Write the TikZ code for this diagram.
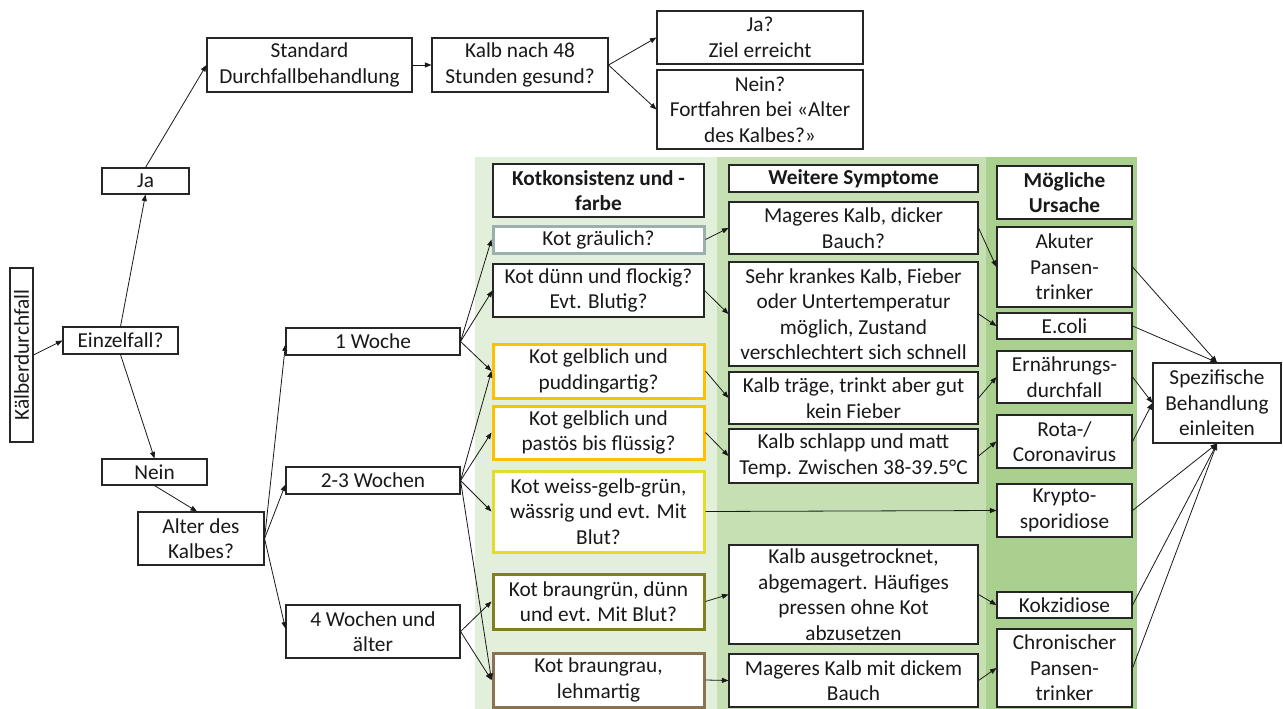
\documentclass[tikz,border=0pt]{standalone}
\usepackage{fontspec}
\setmainfont{Carlito}
\usetikzlibrary{arrows.meta}
\definecolor{bgA}{HTML}{E2EFDA}
\definecolor{bgB}{HTML}{C6E0B4}
\definecolor{bgC}{HTML}{A9D08E}
\definecolor{cgrau}{HTML}{9AAFAE}
\definecolor{corange}{HTML}{FFC000}
\definecolor{cyellow}{HTML}{E2DC2A}
\definecolor{colive}{HTML}{808020}
\definecolor{cbrown}{HTML}{8B7250}
\newcommand\mybox[7][]{\node[box,#1,minimum width={(#5-#3)*1pt},minimum height={(#6-#4)*1pt}] (#2) at ({(#3+#5)/2},{(#4+#6)/2}) {#7};}
\begin{document}
\begin{tikzpicture}[x=1pt,y=-1pt,
  box/.style={draw=black!85,line width=1.1pt,fill=white,inner sep=0pt,align=center,text=black!90,font=\fontsize{21.3}{25.5}\selectfont},
  hd/.style={font=\fontsize{21.3}{25.5}\selectfont\bfseries},
  cbox/.style={line width=3pt},
  arr/.style={-{Triangle[length=6.5pt,width=5pt]},line width=0.8pt,draw=black!90}]
\useasboundingbox (0,0) rectangle (1283,709);
\fill[white] (0,0) rectangle (1283,709);
% column backgrounds
\fill[bgA] (475,157) rectangle (717,709);
\fill[bgB] (717,157) rectangle (986,709);
\fill[bgC] (986,157) rectangle (1137,709);
% left part
\mybox{kd}{10}{268}{33}{442}{\rotatebox{90}{Kälberdurchfall}}
\mybox{ein}{63}{327}{178}{354}{Einzelfall?}
\mybox{ja}{102}{168}{189}{194}{Ja}
\mybox{nein}{102}{459}{207}{485}{Nein}
\mybox{alt}{138}{512}{264}{565}{Alter des\\Kalbes?}
\mybox{std}{207}{38}{412}{92}{Standard\\Durchfallbehandlung}
\mybox{k48}{432}{38}{608}{92}{Kalb nach 48\\Stunden gesund?}
\mybox{jaz}{657}{11}{863}{64}{Ja?\\Ziel erreicht}
\mybox{neinz}{657}{70}{863}{149}{Nein?\\Fortfahren bei «Alter\\des Kalbes?»}
\mybox{w1}{286}{328}{460}{355}{1 Woche}
\mybox{w23}{286}{467}{460}{494}{2-3 Wochen}
\mybox{w4}{286}{605}{460}{658}{4 Wochen und\\älter}
% column 1
\mybox[hd]{h1}{493}{164}{704}{217}{Kotkonsistenz und -\\farbe}
\mybox[cbox,draw=cgrau]{k1}{493}{226}{704}{253}{Kot gräulich?}
\mybox{k2}{493}{264}{704}{317}{Kot dünn und flockig?\\Evt. Blutig?}
\mybox[cbox,draw=corange]{k3}{493}{344}{704}{398}{Kot gelblich und\\puddingartig?}
\mybox[cbox,draw=corange]{k4}{493}{406}{704}{459}{Kot gelblich und\\pastös bis flüssig?}
\mybox[cbox,draw=cyellow]{k5}{493}{471}{704}{552}{Kot weiss-gelb-grün,\\wässrig und evt. Mit\\Blut?}
\mybox[cbox,draw=colive]{k6}{493}{574}{704}{629}{Kot braungrün, dünn\\und evt. Mit Blut?}
\mybox[cbox,draw=cbrown]{k7}{493}{653}{704}{707}{Kot braungrau,\\lehmartig}
% column 2
\mybox[hd]{h2}{729}{165}{978}{192}{Weitere Symptome}
\mybox{s1}{729}{202}{978}{254}{Mageres Kalb, dicker\\Bauch?}
\mybox{s2}{729}{262}{978}{366}{Sehr krankes Kalb, Fieber\\oder Untertemperatur\\möglich, Zustand\\verschlechtert sich schnell}
\mybox{s3}{729}{372}{978}{424}{Kalb träge, trinkt aber gut\\kein Fieber}
\mybox{s4}{729}{429}{978}{483}{Kalb schlapp und matt\\Temp. Zwischen 38-39.5°C}
\mybox{s5}{729}{545}{978}{644}{Kalb ausgetrocknet,\\abgemagert. Häufiges\\pressen ohne Kot\\abzusetzen}
\mybox{s6}{729}{654}{978}{707}{Mageres Kalb mit dickem\\Bauch}
% column 3
\mybox[hd]{h3}{997}{166}{1132}{219}{Mögliche\\Ursache}
\mybox{u1}{997}{227}{1132}{307}{Akuter\\Pansen-\\trinker}
\mybox{u2}{997}{313}{1132}{339}{E.coli}
\mybox{u3}{997}{351}{1132}{403}{Ernährungs-\\durchfall}
\mybox{u4}{997}{415}{1132}{468}{Rota-/\\Coronavirus}
\mybox{u5}{997}{484}{1132}{537}{Krypto-\\sporidiose}
\mybox{u6}{997}{592}{1132}{618}{Kokzidiose}
\mybox{u7}{997}{629}{1132}{707}{Chronischer\\Pansen-\\trinker}
\mybox{sp}{1153}{363}{1281}{443}{Spezifische\\Behandlung\\einleiten}
% connectors
\draw[arr] (kd.east) -- (ein.west);
\draw[arr] (ein.north) -- (ja.south);
\draw[arr] (ein.south) -- (nein.north);
\draw[arr] (nein.south) -- ([xshift=-4pt]alt.north);
\draw[arr] (ja.north) -- (std.west);
\draw[arr] (std.east) -- (k48.west);
\draw[arr] (k48.east) -- (jaz.west);
\draw[arr] (k48.east) -- (neinz.west);
\draw[arr] (alt.east) -- ([yshift=-3pt]w1.west);
\draw[arr] (alt.east) -- ([yshift=-4pt]w23.west);
\draw[arr] (alt.east) -- ([yshift=3pt]w4.west);
\foreach \t in {k1,k2,k3} \draw[arr] (w1.east) -- (\t.west);
\foreach \t in {k3,k4,k5,k7} \draw[arr] (w23.east) -- (\t.west);
\foreach \t in {k6,k7} \draw[arr] (w4.east) -- (\t.west);
\draw[arr] (k1.east) -- (s1.west);
\draw[arr] (k2.east) -- (s2.west);
\draw[arr] (k3.east) -- (s3.west);
\draw[arr] (k4.east) -- (s4.west);
\draw[arr] (k5.east) -- (u5.west);
\draw[arr] (k6.east) -- (s5.west);
\draw[arr] (k7.east) -- (s6.west);
\draw[arr] (s1.east) -- (u1.west);
\draw[arr] (s2.east) -- (u2.west);
\draw[arr] (s3.east) -- (u3.west);
\draw[arr] (s4.east) -- (u4.west);
\draw[arr] (s5.east) -- (u6.west);
\draw[arr] (s6.east) -- (u7.west);
\draw[arr] (u1.east) -- (sp.north);
\draw[arr] (u2.east) -- (sp.north);
\draw[arr] (u3.east) -- (sp.west);
\draw[arr] (u4.east) -- (sp.west);
\draw[arr] (u5.east) -- (sp.south);
\draw[arr] (u6.east) -- (sp.south);
\draw[arr] (u7.east) -- (sp.south);
\end{tikzpicture}
\end{document}
